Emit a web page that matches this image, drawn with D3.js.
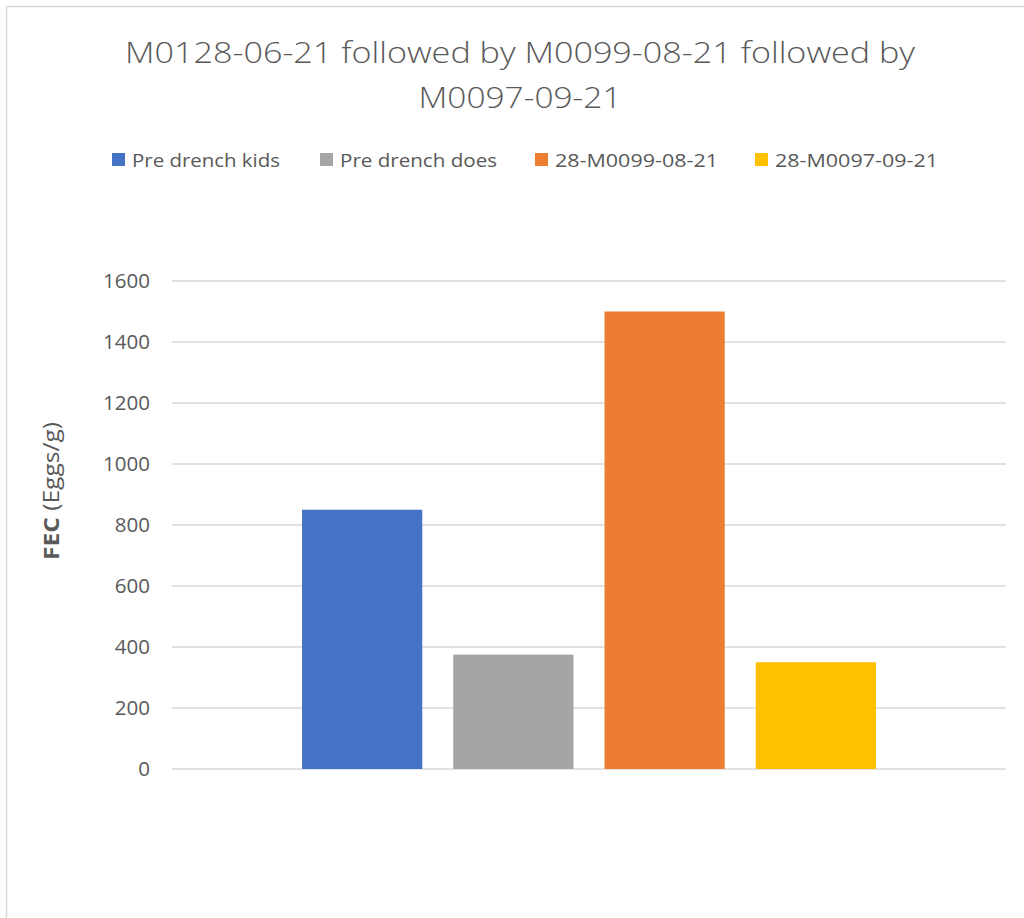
<!DOCTYPE html>
<html>
<head>
<meta charset="utf-8">
<script src="https://cdn.jsdelivr.net/npm/d3@7"></script>
<style>
  html, body { margin: 0; padding: 0; background: #fff; }
  svg { display: block; }
  text { font-family: "Open Sans", "Noto Sans", sans-serif; fill: #595959; }
</style>
</head>
<body>
<div id="chart"></div>
<script>
// Series shown as separate bars, with their FEC values (eggs per gram)
const seriesNames = ["Pre drench kids", "Pre drench does", "28-M0099-08-21", "28-M0097-09-21"];
const seriesValues = [850, 375, 1500, 350];
const seriesColors = ["#4472C4", "#A5A5A5", "#ED7D31", "#FFC000"];
const yTicks = [0, 200, 400, 600, 800, 1000, 1200, 1400, 1600];
const titleLines = ["M0128-06-21 followed by M0099-08-21 followed by", "M0097-09-21"];

const W = 1024, H = 918;
const plot = { left: 172, right: 1006, top: 281, bottom: 769 };

const svg = d3.select("#chart").append("svg")
  .attr("width", W).attr("height", H);

// Chart area frame
svg.append("rect")
  .attr("x", 6.5).attr("y", 6.5)
  .attr("width", W + 50).attr("height", H + 50)
  .attr("fill", "#fff")
  .attr("stroke", "#D9D9D9").attr("stroke-width", 1.5);

// Title
svg.append("g").selectAll("text")
  .data(titleLines)
  .join("text")
  .attr("x", 520)
  .attr("y", (d, i) => 63 + i * 45)
  .attr("text-anchor", "middle")
  .attr("font-size", 29)
  .attr("font-weight", 300)
  .attr("textLength", (d, i) => i === 0 ? 790 : 203)
  .attr("lengthAdjust", "spacingAndGlyphs")
  .text(d => d);

// Legend
const legendX = [112, 320, 535, 755];
const legendW = [148, 157, 163, 163];
const legend = svg.append("g").selectAll("g")
  .data(seriesNames)
  .join("g")
  .attr("transform", (d, i) => `translate(${legendX[i]},0)`);
legend.append("rect")
  .attr("x", 0).attr("y", 153)
  .attr("width", 13).attr("height", 13)
  .attr("fill", (d, i) => seriesColors[i]);
legend.append("text")
  .attr("x", 20).attr("y", 167)
  .attr("font-size", 18.5)
  .attr("textLength", (d, i) => legendW[i])
  .attr("lengthAdjust", "spacingAndGlyphs")
  .text(d => d);

// Scales
const x = d3.scaleBand()
  .domain(seriesNames)
  .range([plot.left, plot.right])
  .paddingInner(0.205)
  .paddingOuter(0.86);

const y = d3.scaleLinear()
  .domain([0, 1600])
  .range([plot.bottom, plot.top]);

// Horizontal gridlines
svg.append("g").selectAll("line")
  .data(yTicks)
  .join("line")
  .attr("x1", plot.left).attr("x2", plot.right)
  .attr("y1", d => y(d)).attr("y2", d => y(d))
  .attr("stroke", "#D9D9D9").attr("stroke-width", 1.5);

// Y axis tick labels
const yAxis = d3.axisLeft(y)
  .tickValues(yTicks)
  .tickFormat(d3.format("d"))
  .tickSize(0).tickPadding(0);
const yg = svg.append("g")
  .attr("transform", `translate(150,0)`)
  .call(yAxis);
yg.select(".domain").remove();
yg.selectAll("text")
  .attr("font-size", 20.5)
  .attr("fill", "#595959")
  .style("font-family", "'Open Sans', 'Noto Sans', sans-serif");

// Bars
svg.append("g").selectAll("rect")
  .data(seriesValues)
  .join("rect")
  .attr("x", (d, i) => x(seriesNames[i]))
  .attr("width", x.bandwidth())
  .attr("y", d => y(d))
  .attr("height", d => y(0) - y(d))
  .attr("fill", (d, i) => seriesColors[i]);

// Y axis title
const yTitle = svg.append("text")
  .attr("transform", "translate(59,491) rotate(-90)")
  .attr("text-anchor", "middle")
  .attr("font-size", 22)
  .attr("textLength", 138)
  .attr("lengthAdjust", "spacingAndGlyphs");
yTitle.append("tspan").attr("font-weight", "bold").text("FEC");
yTitle.append("tspan").text(" (Eggs/g)");
</script>
</body>
</html>
